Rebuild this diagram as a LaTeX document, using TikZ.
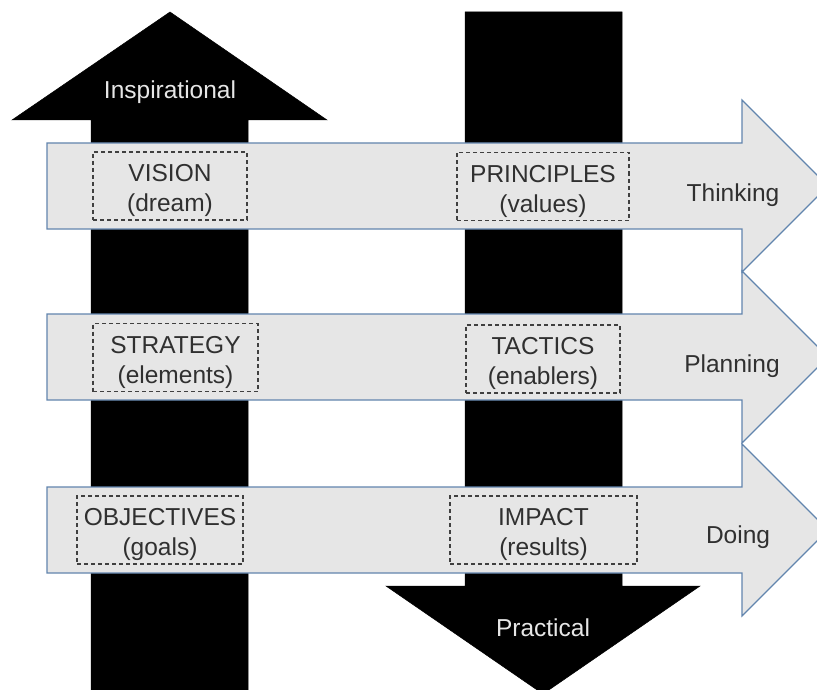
\documentclass[tikz,border=0pt]{standalone}
\usepackage{fontspec}
\setmainfont{Liberation Sans}

\definecolor{rowfill}{HTML}{E6E6E6}
\definecolor{rowedge}{HTML}{6285AE}
\definecolor{inktext}{HTML}{303030}
\definecolor{boxline}{HTML}{404040}
\definecolor{lighttext}{HTML}{E6E6E6}

\newcommand{\twolines}[2]{\raisebox{-11pt}[0pt][0pt]{\begin{tabular}{@{}c@{}}#1\\#2\end{tabular}}}

\tikzset{
  bigarrow/.style={fill=black, draw=black, line width=0.5pt},
  rowarrow/.style={fill=rowfill, draw=rowedge, line width=1.2pt, line join=miter},
  itembox/.style={draw=boxline, dash pattern=on 4pt off 3pt, line width=1.1pt,
    minimum height=68pt, inner sep=0pt, text=inktext,
    font=\fontsize{24.5}{30}\selectfont},
  rowlabel/.style={anchor=base, text=inktext, font=\fontsize{24.5}{30}\selectfont},
  arrowlabel/.style={anchor=base, text=lighttext, font=\fontsize{24.5}{30}\selectfont}
}

\begin{document}
\begin{tikzpicture}[x=1pt, y=-1pt]
\clip (0,0) rectangle (817,690);
\fill[white] (0,0) rectangle (817,690);

% up and down arrows
\draw[bigarrow] (91,690) -- (91,120) -- (12,120) -- (170,12) -- (327,120) -- (248,120) -- (248,690) -- cycle;
\draw[bigarrow] (465,12) -- (622,12) -- (622,586) -- (700,586) -- (543,694) -- (386,586) -- (465,586) -- cycle;

% the three rows
\foreach \yc in {186,357,530}
  \draw[rowarrow] (47,\yc-43) -- (742,\yc-43) -- (742,\yc-86) -- (828,\yc)
    -- (742,\yc+86) -- (742,\yc+43) -- (47,\yc+43) -- cycle;

\node[itembox, minimum width=154pt] (vision) at (170,186) {\twolines{VISION}{(dream)}};
\node[itembox, minimum width=172pt] (principles) at (543,186.5) {\twolines{PRINCIPLES}{(values)}};
\node[itembox, minimum width=165pt] (strategy) at (175.5,357.5) {\twolines{STRATEGY}{(elements)}};
\node[itembox, minimum width=154pt] (tactics) at (543,359) {\twolines{TACTICS}{(enablers)}};
\node[itembox, minimum width=166pt] (objectives) at (160,530) {\twolines{OBJECTIVES}{(goals)}};
\node[itembox, minimum width=187pt] (impact) at (543.5,530) {\twolines{IMPACT}{(results)}};

\node[rowlabel] (thinking) at (733,201) {Thinking};
\node[rowlabel] (planning) at (732,372) {Planning};
\node[rowlabel] (doing) at (738,543) {Doing};

\node[arrowlabel] (inspirational) at (170,99) {Inspirational};
\node[arrowlabel] (practical) at (543,636) {Practical};
\end{tikzpicture}
\end{document}
